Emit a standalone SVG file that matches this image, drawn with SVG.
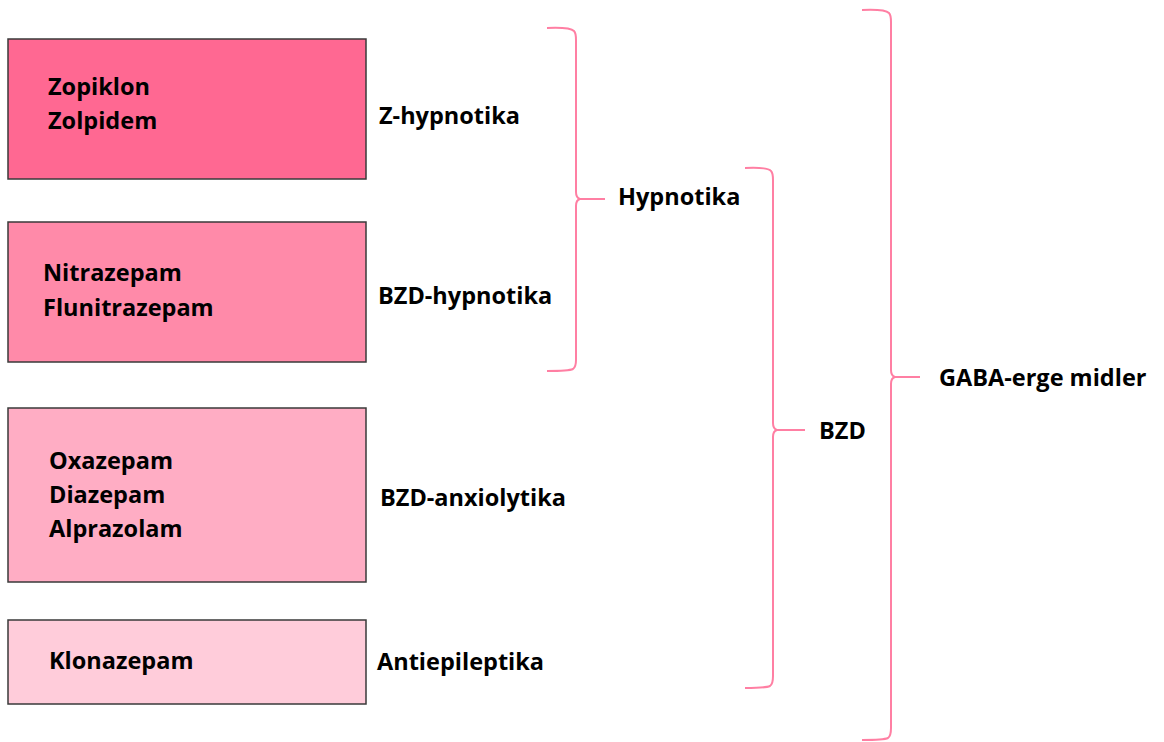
<svg xmlns="http://www.w3.org/2000/svg" width="1164" height="742" viewBox="0 0 1164 742">
<style>
.box{stroke:#3a3a3a;stroke-width:1.5}
.t{font-family:"Open Sans","Liberation Sans",sans-serif;font-weight:bold;font-size:23.5px;fill:#000}
.br{fill:none;stroke:#ff7fa3;stroke-width:2}
</style>
<rect width="1164" height="742" fill="#fff"/>
<g id="n1"><rect class="box" x="8" y="39" width="358" height="140" fill="#ff6892"/>
<text class="t" x="48" y="95">Zopiklon</text><text class="t" x="48" y="129">Zolpidem</text></g>
<g id="n2"><rect class="box" x="8" y="222" width="358" height="140" fill="#ff8aa9"/>
<text class="t" x="43" y="281">Nitrazepam</text><text class="t" x="43" y="316">Flunitrazepam</text></g>
<g id="n3"><rect class="box" x="8" y="408" width="358" height="174" fill="#ffadc4"/>
<text class="t" x="49" y="469">Oxazepam</text><text class="t" x="49" y="503">Diazepam</text><text class="t" x="49" y="537">Alprazolam</text></g>
<g id="n4"><rect class="box" x="8" y="620" width="358" height="84" fill="#ffccda"/>
<text class="t" x="49" y="669">Klonazepam</text></g>
<g id="l1"><text class="t" x="379" y="124">Z-hypnotika</text></g>
<g id="l2"><text class="t" x="378" y="304">BZD-hypnotika</text></g>
<g id="l3"><text class="t" x="380" y="506">BZD-anxiolytika</text></g>
<g id="l4"><text class="t" x="377" y="670">Antiepileptika</text></g>
<g id="l5"><text class="t" x="618" y="205">Hypnotika</text></g>
<g id="l6"><text class="t" x="819" y="439">BZD</text></g>
<g id="l7"><text class="t" x="939" y="386">GABA-erge midler</text></g>
<g id="connectors">
<path class="br" d="M547 28 Q570 27 574 31 Q576 33 576 40 L576 192 Q576 198 580 199 L605 199 L580 199 Q576 200 576 206 L576 360 Q576 367 573 369 Q569 371 547 371"/>
<path class="br" d="M745 168 Q768 167 771 171 Q773 173 773 180 L773 423 Q773 429 777 430 L805 430 L777 430 Q773 431 773 437 L773 676 Q773 684 770 686 Q766 688 745 688"/>
<path class="br" d="M862 10 Q885 9 889 13 Q891 15 891 22 L891 370 Q891 376 895 377 L920 377 L895 377 Q891 378 891 384 L891 728 Q891 736 888 738 Q884 740 862 740"/>
</g>
</svg>
